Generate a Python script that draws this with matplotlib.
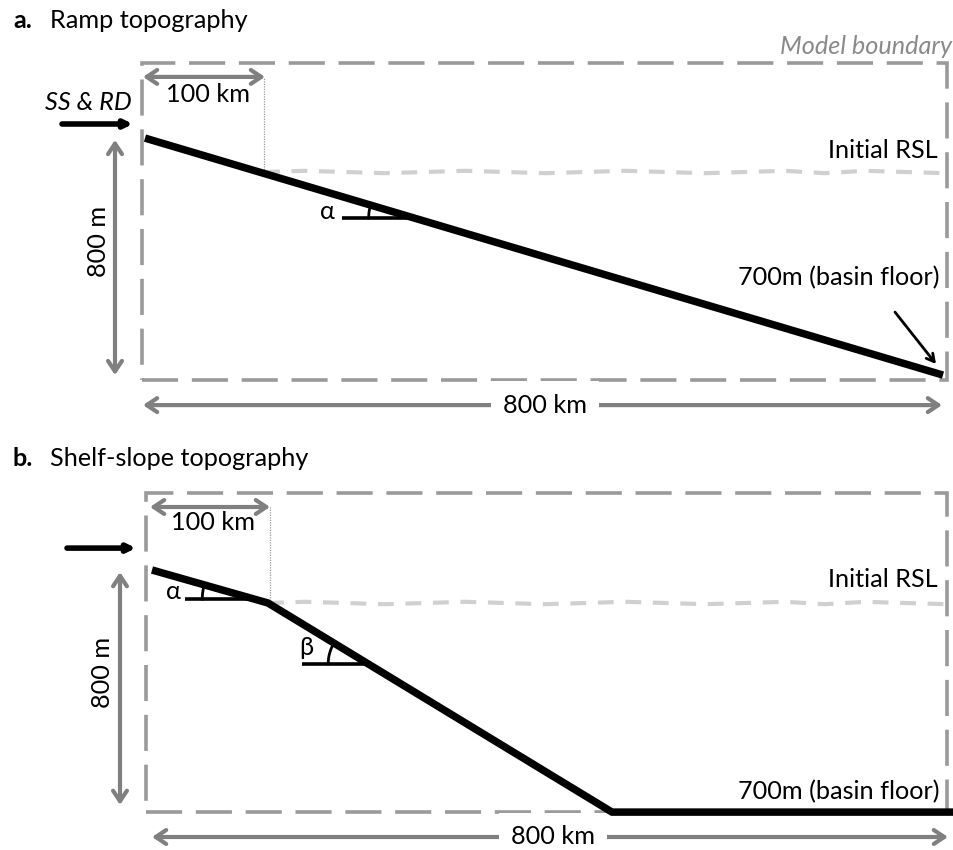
import numpy as np
import matplotlib
matplotlib.use("Agg")
import matplotlib.pyplot as plt
from matplotlib.patches import Rectangle

plt.rcParams['font.family'] = ['Lato', 'DejaVu Sans']

# ---------------- data (x in km, z in m relative to initial RSL) ----------------
# panel a: ramp
box_a_x = [-3, 802]
box_a_z = [363, -693]
ramp_x = [0, 798]
ramp_z = [113, -677]
rsl_a_x = [119, 160, 200, 240, 280, 320, 360, 400, 440, 480, 520, 560, 600, 640, 680, 720, 760, 802]
rsl_a_z = [0, 4, 0, -4, 0, 4, 0, -4, 0, 4, 0, -4, 0, 4, -4, 4, 0, -4]
shelf_a_km = 119
# panel b: shelf-slope
box_b_x = [1, 802]
box_b_z = [367, -697]
shelf_x = [7, 123, 467, 808]
shelf_z = [110, 0, -697, -697]
rsl_b_x = [123, 160, 200, 240, 280, 320, 360, 400, 440, 480, 520, 560, 600, 640, 680, 720, 760, 802]
rsl_b_z = [0, 4, 0, -4, 0, 4, 0, -4, 0, 4, 0, -4, 0, 4, -4, 4, 0, -4]
shelf_b_km = 125

labels = {
    'a_title': 'Ramp topography',
    'b_title': 'Shelf-slope topography',
    'dist': '100 km',
    'width': '800 km',
    'height': '800 m',
    'rsl': 'Initial RSL',
    'floor': '700m (basin floor)',
    'boundary': 'Model boundary',
    'input': 'SS & RD',
}

W, H = 954, 850
fig = plt.figure(figsize=(W / 100, H / 100), dpi=100)

PX_PER_M = 0.3  # vertical scale (px per m)
BOX_C = '#9a9a9a'
ARR_C = '#808080'
RSL_C = '#d0d0d0'
FS = 18.2


def make_axes(rect, rsl_px, top_px, bot_px):
    ax = fig.add_axes(rect)
    ax.set_xlim(-145, W - 145)
    ax.set_ylim(-(bot_px - rsl_px) / PX_PER_M, (rsl_px - top_px) / PX_PER_M)
    ax.axis('off')
    return ax


def draw_box(ax, bx, bz):
    ax.add_patch(Rectangle((bx[0], bz[1]), bx[1] - bx[0], bz[0] - bz[1], fill=False,
                           ec=BOX_C, lw=2.6, ls=(0, (10, 3.8)), joinstyle='miter', zorder=1))


def darrow(ax, x0, z0, x1, z1):
    ax.annotate('', xy=(x1, z1), xytext=(x0, z0),
                arrowprops=dict(arrowstyle='<->,head_length=0.75,head_width=0.5',
                                color=ARR_C, lw=3.0, shrinkA=0, shrinkB=0), zorder=3)


def black_arrow(ax, x0, z0, x1, z1, lw=4, head='-|>,head_length=0.45,head_width=0.22'):
    ax.annotate('', xy=(x1, z1), xytext=(x0, z0),
                arrowprops=dict(arrowstyle=head, color='black', lw=lw,
                                shrinkA=0, shrinkB=0), zorder=4)


def angle_mark(ax, seg_x, seg_z, x_left, z_line, r_px, label, lx, lz):
    # horizontal reference line ending on the profile segment, plus an arc
    x0, x1 = seg_x
    z0, z1 = seg_z
    xi = x0 + (z_line - z0) / (z1 - z0) * (x1 - x0)
    ax.plot([x_left, xi], [z_line, z_line], color='black', lw=2.6, solid_capstyle='butt', zorder=4)
    theta = np.arctan2((z0 - z1) * PX_PER_M, (x1 - x0))
    t = np.linspace(0, theta, 30)
    ax.plot(xi - r_px * np.cos(t), z_line + r_px * np.sin(t) / PX_PER_M,
            color='black', lw=2.0, zorder=4)
    ax.text(lx, lz, label, fontsize=FS, ha='center', va='center', zorder=5)


# ---------------- panel a ----------------
axa = make_axes([0, 0.5, 1, 0.5], rsl_px=172, top_px=0, bot_px=425)
draw_box(axa, box_a_x, box_a_z)
axa.plot(rsl_a_x, rsl_a_z, color=RSL_C, lw=3.0, ls=(0, (3.8, 2.8)), zorder=2)
axa.plot(ramp_x, ramp_z, color='black', lw=5.4, solid_capstyle='butt', zorder=5)
axa.plot([shelf_a_km, shelf_a_km], [0, 317], color='#9a9a9a', lw=0.9, ls=(0, (1, 1)), zorder=2)
darrow(axa, -2, 317, shelf_a_km + 1, 317)
axa.text(63, 257, labels['dist'], fontsize=FS, ha='center', va='center')
axa.text(-57, 230, labels['input'], fontsize=FS, ha='center', va='center', style='italic')
black_arrow(axa, -83, 160, -12, 160)
darrow(axa, -30, 107, -30, -677)
axa.text(-46, -233, labels['height'], fontsize=FS, ha='center', va='center', rotation=90)
angle_mark(axa, ramp_x, ramp_z, 197, -153, 45, 'α', 182, -133)
axa.text(793, 73, labels['rsl'], fontsize=FS, ha='right', va='center')
axa.text(807, 417, labels['boundary'], fontsize=FS, ha='right', va='center',
         style='italic', color='#8a8a8a')
axa.text(795, -353, labels['floor'], fontsize=FS, ha='right', va='center')
black_arrow(axa, 750, -467, 791, -640, lw=2, head='->,head_length=0.55,head_width=0.3')
darrow(axa, -2, -777, 797, -777)
axa.text(400, -777, labels['width'], fontsize=FS, ha='center', va='center',
         bbox=dict(fc='white', ec='none', pad=9), zorder=4)

# ---------------- panel b ----------------
axb = make_axes([0, 0, 1, 0.5], rsl_px=603, top_px=425, bot_px=850)
draw_box(axb, box_b_x, box_b_z)
axb.plot(rsl_b_x, rsl_b_z, color=RSL_C, lw=3.0, ls=(0, (3.8, 2.8)), zorder=2)
axb.plot(shelf_x, shelf_z, color='black', lw=5.4, solid_joinstyle='miter',
         solid_capstyle='butt', zorder=5)
axb.plot([shelf_b_km, shelf_b_km], [0, 320], color='#9a9a9a', lw=0.9, ls=(0, (1, 1)), zorder=2)
darrow(axb, 5, 320, shelf_b_km, 320)
axb.text(68, 267, labels['dist'], fontsize=FS, ha='center', va='center')
black_arrow(axb, -78, 183, -9, 183)
darrow(axb, -25, 103, -25, -673)
axb.text(-42, -233, labels['height'], fontsize=FS, ha='center', va='center', rotation=90)
angle_mark(axb, shelf_x[0:2], shelf_z[0:2], 40, 13, 52, 'α', 28, 37)
angle_mark(axb, shelf_x[1:3], shelf_z[1:3], 157, -203, 40, 'β', 161, -147)
axb.text(793, 77, labels['rsl'], fontsize=FS, ha='right', va='center')
axb.text(795, -630, labels['floor'], fontsize=FS, ha='right', va='center')
darrow(axb, 7, -780, 803, -780)
axb.text(408, -780, labels['width'], fontsize=FS, ha='center', va='center',
         bbox=dict(fc='white', ec='none', pad=9), zorder=4)

# titles
fig.text(13 / W, 1 - 20 / H, 'a.', fontsize=FS, fontweight='bold', ha='left', va='center')
fig.text(50 / W, 1 - 20 / H, labels['a_title'], fontsize=FS, ha='left', va='center')
fig.text(13 / W, 1 - 458 / H, 'b.', fontsize=FS, fontweight='bold', ha='left', va='center')
fig.text(50 / W, 1 - 458 / H, labels['b_title'], fontsize=FS, ha='left', va='center')

fig.savefig('out.png', dpi=100)
